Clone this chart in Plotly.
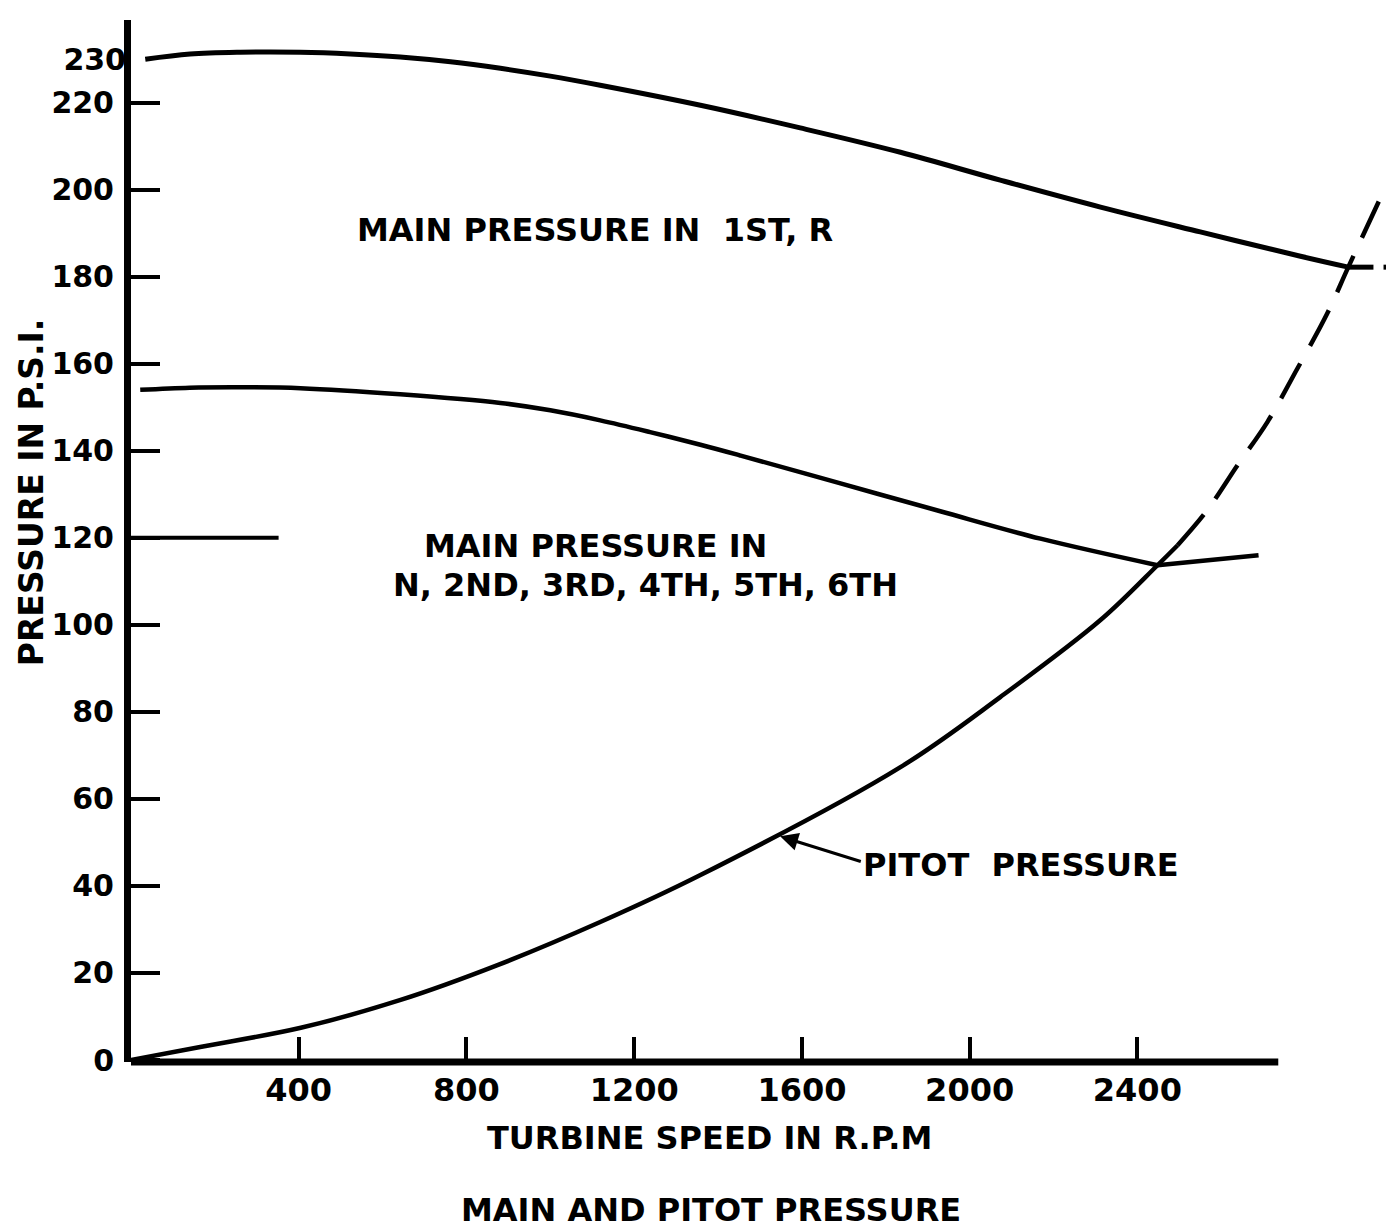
import plotly.graph_objects as go

# ---- data ----
rpm_first = [34, 141, 261, 404, 523, 642, 762, 881, 1000, 1119, 1358, 1596, 1835, 2073, 2312, 2550, 2789, 2903]
psi_first = [230.0, 231.2, 231.6, 231.6, 231.2, 230.5, 229.4, 227.9, 226.1, 224.0, 219.4, 214.2, 208.6, 202.2, 196.0, 190.3, 184.7, 182.2]
rpm_first_tail = [2903, 2963]
psi_first_tail = [182.2, 182.2]
rpm_first_ext = [2987, 3012]
psi_first_ext = [182.2, 182.2]

rpm_gears = [22, 140, 261, 404, 642, 881, 1000, 1119, 1238, 1358, 1454, 1692, 1930, 2169, 2448]
psi_gears = [154.0, 154.5, 154.6, 154.4, 153.0, 151.0, 149.3, 147.0, 144.3, 141.4, 138.9, 132.5, 126.1, 119.8, 113.7]
rpm_gears_tail = [2448, 2689]
psi_gears_tail = [113.7, 116.0]

rpm_pitot = [0, 165, 405, 643, 874, 1119, 1358, 1835, 2073, 2312, 2448, 2496]
psi_pitot = [0.0, 3.0, 7.4, 13.8, 21.8, 31.7, 42.5, 67.3, 83.4, 101.1, 113.7, 118.3]

rpm_pitot_ext = [2496, 2567, 2639, 2710, 2777, 2853, 2903, 2994]
psi_pitot_ext = [118.3, 126.4, 136.7, 146.6, 158.1, 171.6, 182.2, 201.1]

rpm_ref120 = [0, 352]
psi_ref120 = [120, 120]

x_ticks = [400, 800, 1200, 1600, 2000, 2400]
y_ticks = [0, 20, 40, 60, 80, 100, 120, 140, 160, 180, 200, 220]
y_extra_tick = [230]
x_axis_end = 2736

FONT = "DejaVu Sans"
ink = "black"

fig = go.Figure()
line_w = 4.5
spl = dict(shape="spline", smoothing=1.0)
fig.add_trace(go.Scatter(x=rpm_first, y=psi_first, mode="lines", yaxis="y2",
                         line=dict(color=ink, width=5, **spl)))
fig.add_trace(go.Scatter(x=rpm_first_tail, y=psi_first_tail, mode="lines",
                         line=dict(color=ink, width=5)))
fig.add_trace(go.Scatter(x=rpm_first_ext, y=psi_first_ext, mode="lines",
                         line=dict(color=ink, width=5)))
fig.add_trace(go.Scatter(x=rpm_gears, y=psi_gears, mode="lines",
                         line=dict(color=ink, width=line_w, **spl)))
fig.add_trace(go.Scatter(x=rpm_gears_tail, y=psi_gears_tail, mode="lines",
                         line=dict(color=ink, width=line_w)))
fig.add_trace(go.Scatter(x=rpm_pitot, y=psi_pitot, mode="lines",
                         line=dict(color=ink, width=line_w, **spl)))
fig.add_trace(go.Scatter(x=rpm_pitot_ext, y=psi_pitot_ext, mode="lines",
                         line=dict(color=ink, width=line_w, dash="40px,20px", **spl)))
fig.add_trace(go.Scatter(x=rpm_ref120, y=psi_ref120, mode="lines",
                         line=dict(color=ink, width=4)))

# x axis baseline (ends short of the right edge)
fig.add_shape(type="line", xref="x", yref="paper", x0=0, x1=x_axis_end, y0=0, y1=0,
              line=dict(color=ink, width=7))

xtickfont = dict(family=FONT, size=32, color=ink, weight="bold")
ytickfont = dict(family=FONT, size=30, color=ink, weight="bold")
txtfont = dict(family=FONT, size=32, color=ink, weight="bold")

# page body has an 8px margin, so the figure is sized to fit the window exactly
fig.update_layout(
    width=1386, height=1221,
    margin=dict(l=123, r=0, t=12, b=167),
    paper_bgcolor="white", plot_bgcolor="white",
    showlegend=False,
    xaxis=dict(range=[0, 3012], tickvals=x_ticks, ticks="inside", ticklen=25, tickwidth=4,
               tickcolor=ink, showgrid=False, zeroline=False, showline=False,
               tickfont=xtickfont, ticklabelstandoff=6),
    yaxis=dict(range=[-0.46, 239], tickvals=y_ticks, ticks="inside", ticklen=29, tickwidth=4,
               tickcolor=ink, showgrid=False, zeroline=False, showline=True, linewidth=7,
               linecolor=ink, tickfont=ytickfont, ticklabelstandoff=4),
    yaxis2=dict(range=[-0.46, 239], overlaying="y", side="left", tickvals=y_extra_tick,
                ticks="", showgrid=False, zeroline=False, showline=False, tickfont=ytickfont,
                ticklabelstandoff=4),
)

annotations = [
    dict(text="MAIN PRESSURE IN  1ST, R", x=1107, y=190.7, xref="x", yref="y",
         showarrow=False, font=txtfont, xanchor="center", yanchor="middle"),
    dict(text="MAIN PRESSURE IN", x=1107, y=118.1, xref="x", yref="y",
         showarrow=False, font=txtfont, xanchor="center", yanchor="middle"),
    dict(text="N, 2ND, 3RD, 4TH, 5TH, 6TH", x=1226, y=109.1, xref="x", yref="y",
         showarrow=False, font=txtfont, xanchor="center", yanchor="middle"),
    dict(text="PITOT  PRESSURE", x=2123, y=44.8, xref="x", yref="y",
         showarrow=False, font=txtfont, xanchor="center", yanchor="middle"),
    dict(text="", x=1548, y=51.4, xref="x", yref="y", ax=1744, ay=45.5, axref="x", ayref="y",
         showarrow=True, arrowhead=2, arrowsize=1.2, arrowwidth=3, arrowcolor=ink, standoff=0),
    dict(text="TURBINE SPEED IN R.P.M", x=0.458, y=-0.073, xref="paper", yref="paper",
         showarrow=False, font=txtfont, xanchor="center", yanchor="middle"),
    dict(text="MAIN AND PITOT PRESSURE", x=0.459, y=-0.142, xref="paper", yref="paper",
         showarrow=False, font=txtfont, xanchor="center", yanchor="middle"),
    dict(text="PRESSURE IN P.S.I.", x=-0.079, y=0.547, xref="paper", yref="paper",
         showarrow=False, font=dict(family=FONT, size=33, color=ink, weight="bold"),
         textangle=-90, xanchor="center", yanchor="middle"),
]
fig.update_layout(annotations=annotations)

fig.write_html("out.html")
